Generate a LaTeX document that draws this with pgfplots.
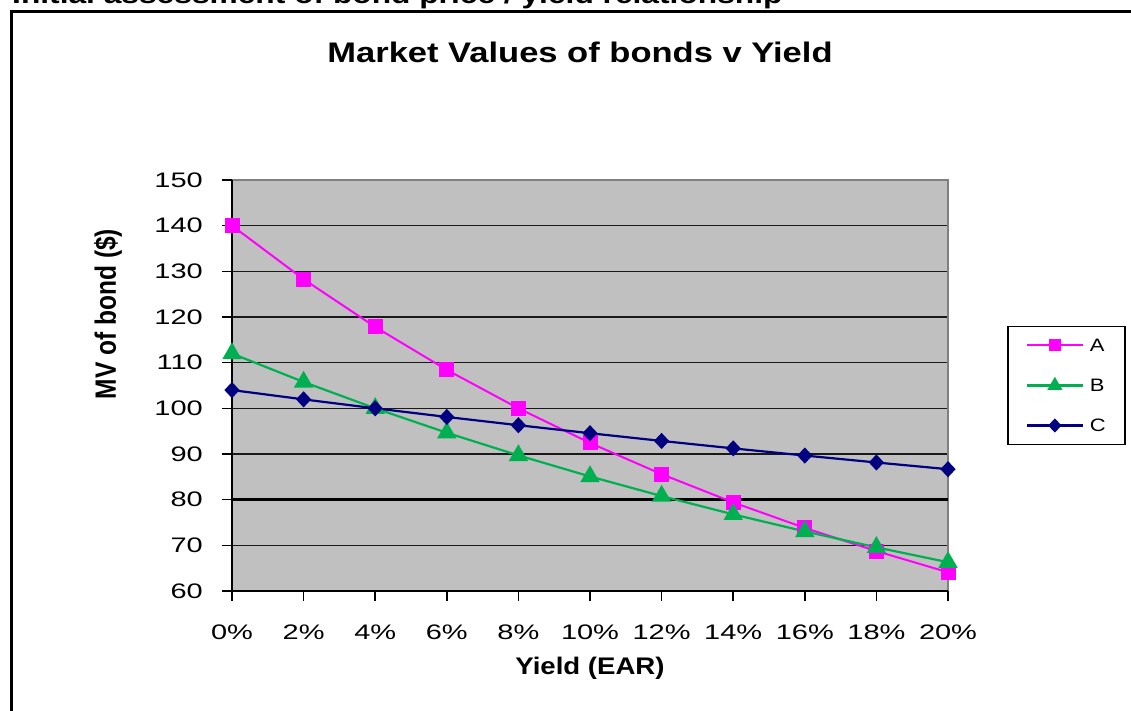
\documentclass[border=0pt]{standalone}
\usepackage{fontspec}
\setmainfont{Liberation Sans}
\newfontfamily\tickfont{Liberation Sans}[FakeStretch=1.38]
\newfontfamily\titlefont{Liberation Sans}[FakeStretch=1.22]
\newfontfamily\labfont{Liberation Sans}[FakeStretch=1.15]
\usepackage{graphicx}
\usepackage{pgfplots}
\usepackage{pgfplotstable}
\pgfplotsset{compat=1.18}

\definecolor{plotgray}{HTML}{C0C0C0}
\definecolor{bondA}{HTML}{FF00FF}
\definecolor{bondB}{HTML}{00B050}
\definecolor{bondC}{HTML}{000080}
\definecolor{frameGray}{HTML}{808080}

% Market value of each bond at yields from 0% to 20%
\pgfplotstableread{
yield A      B      C
0     140.00 112.00 104.00
2     128.28 105.77 101.96
4     117.81 100.00 100.00
6     108.42  94.65  98.11
8     100.00  89.69  96.30
10     92.42  85.08  94.55
12     85.58  80.79  92.86
14     79.40  76.78  91.23
16     73.81  73.05  89.66
18     68.73  69.56  88.14
20     64.10  66.30  86.67
}\bonds

\begin{document}
\begin{tikzpicture}
\useasboundingbox (0,0) rectangle (1131pt,711pt);

% heading of the sheet and frame
\node[anchor=base west, inner sep=0pt, font=\titlefont\bfseries\fontsize{26}{26}\selectfont]
  at (12pt,707pt) {Initial assessment of bond price / yield relationship};
\draw[line width=3pt] (11pt,-5pt) -- (11pt,699pt) -- (1140pt,699pt);

\begin{axis}[
  at={(232pt,120pt)}, anchor=south west,
  width=716pt, height=411pt, scale only axis,
  xmin=0, xmax=20, ymin=60, ymax=150,
  xtick={0,2,4,6,8,10,12,14,16,18,20},
  xticklabels={0\%,2\%,4\%,6\%,8\%,10\%,12\%,14\%,16\%,18\%,20\%},
  ytick={60,70,80,90,100,110,120,130,140,150},
  yticklabels={60,70,80,90,100,110,120,130,140,150},
  xtick pos=bottom, ytick pos=left,
  tick align=outside, major tick length=10pt,
  tick style={black, line width=1.5pt},
  xticklabel style={font=\tickfont\fontsize{21}{21}\selectfont, anchor=north, inner sep=0pt, yshift=-24pt},
  yticklabel style={font=\tickfont\fontsize{21}{21}\selectfont, anchor=east, inner sep=0pt, xshift=-19pt},
  axis background/.style={fill=plotgray},
  axis line style={draw=none},
  ymajorgrids, grid style={black!90, line width=1.3pt},
  legend style={at={(1.0824,0.5)}, anchor=west, draw=black, line width=1.5pt, fill=white,
    inner xsep=18pt, inner ysep=12pt, row sep=26pt,
    font=\titlefont\fontsize{18}{18}\selectfont,
    nodes={inner sep=1pt, text height=12pt, text depth=0pt}},
  legend cell align=left,
  legend image code/.code={%
    \draw[mark repeat=2, mark phase=2, #1] plot coordinates {(0pt,0pt) (28pt,0pt) (56pt,0pt)};},
  clip=false,
]
% plot frame: grey top and right, black left and bottom
\draw[frameGray, line width=2pt] (rel axis cs:0,1) -- (rel axis cs:1,1) -- (rel axis cs:1,0);
\draw[black, line width=2pt] (rel axis cs:0,1) -- (rel axis cs:0,0) -- (rel axis cs:1,0);
\draw[black, line width=2.4pt] (axis cs:0,80) -- (axis cs:20,80);

\addplot[bondA, line width=2pt, mark=square*, mark size=6.5pt,
  legend image post style={mark size=5pt}] table[x=yield, y=A] {\bonds};
\addlegendentry{\hspace{5pt}A}
\addplot[bondB, line width=2.2pt, mark=triangle*, mark size=9pt,
  legend image post style={mark size=6.5pt}] table[x=yield, y=B] {\bonds};
\addlegendentry{\hspace{5pt}B}
\addplot[bondC, line width=2.2pt, mark=diamond*, mark size=6.5pt,
  mark options={xscale=1.25},
  legend image post style={mark size=5.5pt}] table[x=yield, y=C] {\bonds};
\addlegendentry{\hspace{5pt}C}
\end{axis}

% titles
\node[font=\titlefont\bfseries\fontsize{28.3}{28.3}\selectfont] at (580pt,659pt)
  {Market Values of bonds v Yield};
\node[rotate=90, font=\bfseries\fontsize{24.5}{24.5}\selectfont] at (108pt,397pt)
  {\scalebox{1}[1.2]{MV of bond (\$)}};
\node[font=\labfont\bfseries\fontsize{24}{24}\selectfont] at (590pt,43pt)
  {Yield (EAR)};
\end{tikzpicture}
\end{document}
